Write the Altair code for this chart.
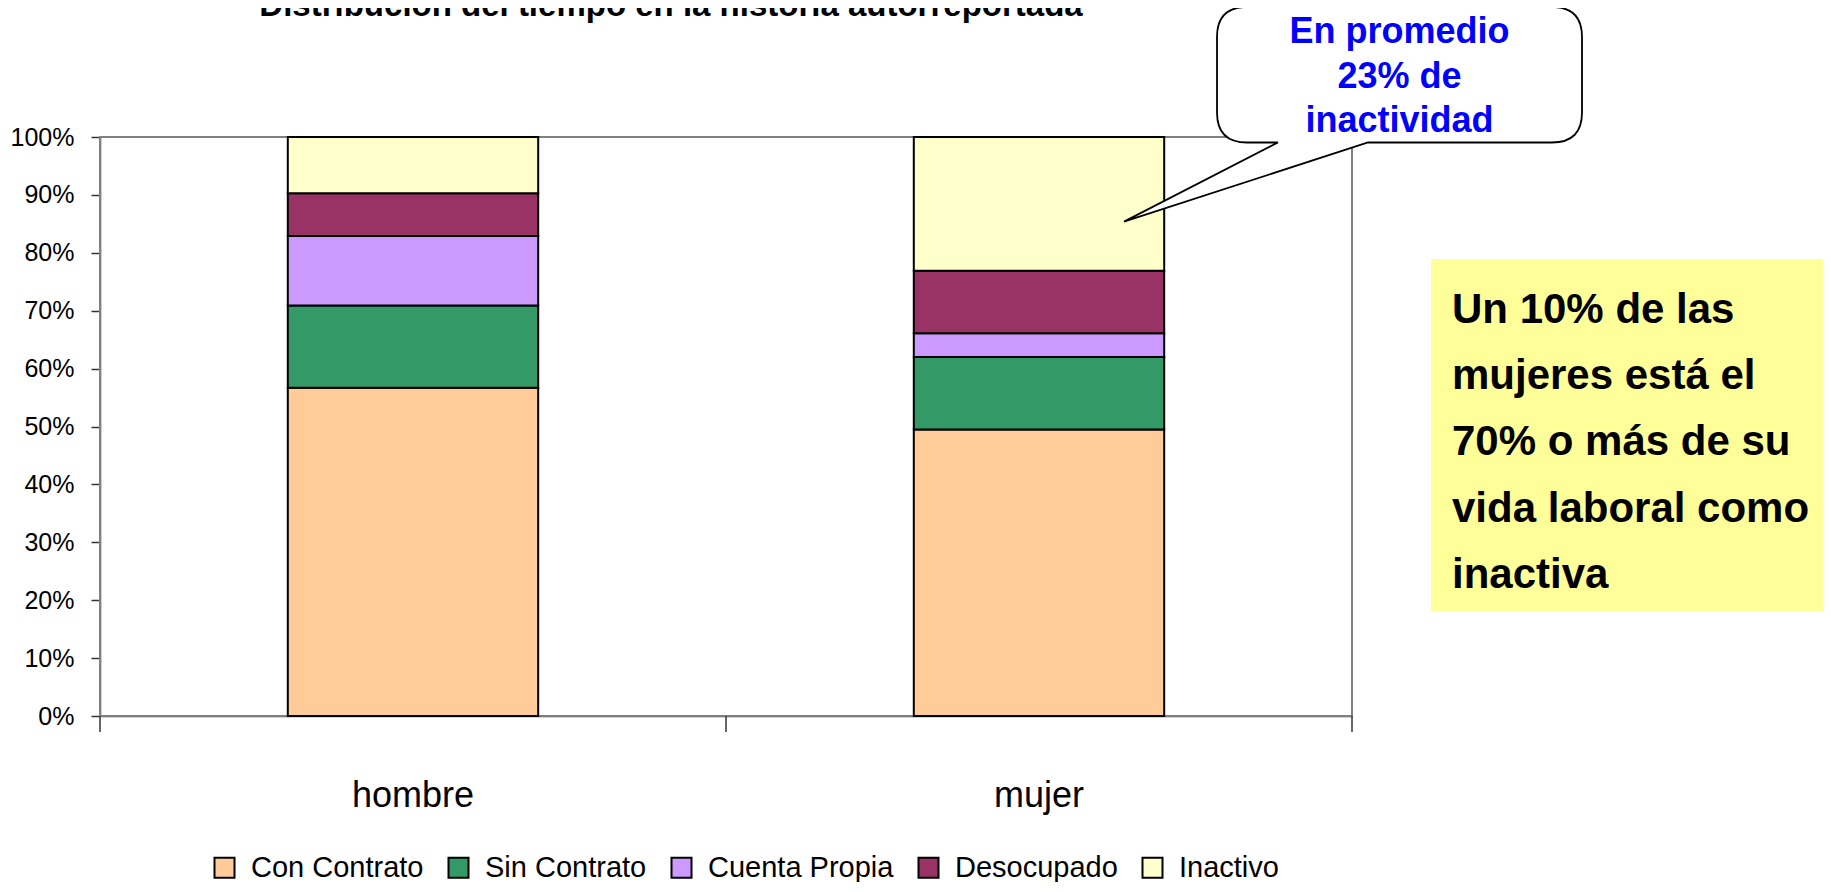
import altair as alt
import pandas as pd

categories = ["hombre", "mujer"]
series = ["Con Contrato", "Sin Contrato", "Cuenta Propia", "Desocupado", "Inactivo"]
hombre = [56.7, 14.2, 12.0, 7.4, 9.7]
mujer = [49.5, 12.5, 4.1, 10.8, 23.1]
colors = ["#FFCC99", "#339966", "#CC99FF", "#993366", "#FFFFCC"]
y_ticks = [0, 0.1, 0.2, 0.3, 0.4, 0.5, 0.6, 0.7, 0.8, 0.9, 1.0]
x_tick_fracs = [0, 0.5, 1]

title_text = "Distribución del tiempo en la historia autorreportada"
bubble_lines = ["En promedio", "23% de", "inactividad"]
note_lines = ["Un 10% de las", "mujeres está el", "70% o más de su", "vida laboral como", "inactiva"]

rows = []
for cat, vals in zip(categories, [hombre, mujer]):
    for i, (s, v) in enumerate(zip(series, vals)):
        rows.append({"sexo": cat, "estado": s, "orden": i, "valor": v / 100})
df = pd.DataFrame(rows)
one = pd.DataFrame({"k": [0]})
ticks_df = pd.DataFrame({"p": x_tick_fracs})

FONT = "Liberation Sans, Arial, sans-serif"
W, H = 1252, 579

frame = alt.Chart(one).mark_rect(fillOpacity=0, stroke="#808080", strokeWidth=2).encode(
    x=alt.value(0), x2=alt.value(W), y=alt.value(0), y2=alt.value(H)
)

bars = alt.Chart(df).mark_bar(stroke="black", strokeWidth=2).encode(
    x=alt.X(
        "sexo:N", sort=categories,
        scale=alt.Scale(paddingInner=0.6, paddingOuter=0.3),
        axis=alt.Axis(title=None, labelAngle=0, labelFont=FONT, labelFontSize=36,
                      labelColor="black", labelBaseline="alphabetic", labelPadding=90,
                      ticks=False, domainColor="#444", domainWidth=1.5),
    ),
    y=alt.Y(
        "valor:Q", stack="zero", scale=alt.Scale(domain=[0, 1], nice=False),
        axis=alt.Axis(title=None, values=y_ticks, format=".0%", labelFont=FONT,
                      labelFontSize=25, labelColor="black", tickSize=9, labelPadding=17,
                      grid=False, domainColor="#444", domainWidth=1.5,
                      tickColor="#333", tickWidth=1.5),
    ),
    color=alt.Color(
        "estado:N", sort=series, scale=alt.Scale(domain=series, range=colors),
        legend=alt.Legend(title=None, orient="none", direction="horizontal", columns=5,
                          legendX=110, legendY=716, symbolType="square", symbolSize=400,
                          symbolStrokeColor="black", symbolStrokeWidth=2, symbolOpacity=1,
                          labelFont=FONT, labelFontSize=29, labelColor="black",
                          labelLimit=0, labelOffset=12, columnPadding=20, padding=0),
    ),
    order=alt.Order("orden:Q", sort="ascending"),
)

xticks = alt.Chart(ticks_df).mark_rule(color="#333", strokeWidth=1.5).encode(
    x=alt.X("p:Q", scale=alt.Scale(domain=[0, 1], nice=False), axis=None),
    y=alt.value(H), y2=alt.value(H + 16),
)

yellow = alt.Chart(one).mark_rect(fill="#FFFF99").encode(
    x=alt.value(1331), x2=alt.value(1740), y=alt.value(122), y2=alt.value(474)
)
yellow_text = alt.Chart(one).mark_text(
    align="left", baseline="alphabetic", font=FONT, fontWeight="bold", fontSize=42,
    color="black", lineHeight=66.2
).encode(x=alt.value(1352), y=alt.value(186), text=alt.value(note_lines))

L, R, T, B, r = 1117, 1482, -130, 5.5, 30
x1, x2, tx, ty = 1178, 1268, 1024, 84.6
path = (f"M{L+r},{T} H{R-r} Q{R},{T} {R},{T+r} V{B-r} Q{R},{B} {R-r},{B} "
        f"H{x2} L{tx},{ty} L{x1},{B} H{L+r} Q{L},{B} {L},{B-r} V{T+r} Q{L},{T} {L+r},{T} Z")
bubble = alt.Chart(one).mark_point(
    shape=path, size=4, filled=True, fill="white", stroke="black", strokeWidth=1.8, opacity=1
).encode(x=alt.value(0), y=alt.value(0))
bubble_text = alt.Chart(one).mark_text(
    align="center", baseline="alphabetic", font=FONT, fontWeight="bold", fontSize=36,
    color="#0000FF", lineHeight=44.5
).encode(x=alt.value(1299.5), y=alt.value(-94), text=alt.value(bubble_lines))

title = alt.Chart(one).mark_text(
    align="center", baseline="alphabetic", font=FONT, fontWeight="bold", fontSize=33,
    color="black"
).encode(x=alt.value(571), y=alt.value(-121), text=alt.value(title_text))

chart = alt.layer(frame, bars, xticks, yellow, yellow_text, bubble, bubble_text, title).resolve_scale(
    x="independent"
).properties(
    width=W, height=H,
    autosize=alt.AutoSizeParams(type="none"),
    padding={"left": 92, "top": 129, "right": 471, "bottom": 166},
    background="white",
).configure_view(strokeWidth=0)

chart.save("out.html", embed_options={"renderer": "svg", "actions": False})
